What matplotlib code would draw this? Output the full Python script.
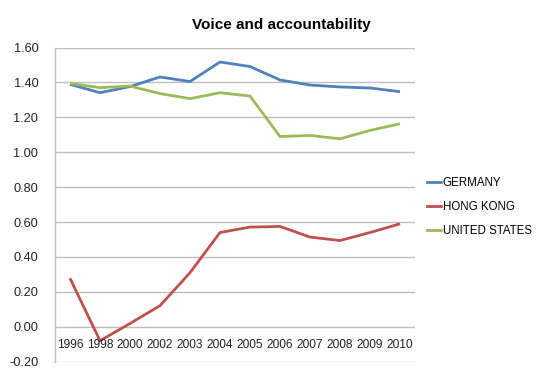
import matplotlib
matplotlib.use("Agg")
import matplotlib.pyplot as plt
from matplotlib.lines import Line2D

plt.rcParams['font.family'] = ['Liberation Sans', 'DejaVu Sans']

years = ["1996", "1998", "2000", "2002", "2003", "2004", "2005", "2006", "2007", "2008", "2009", "2010"]
germany = [1.389, 1.341, 1.376, 1.431, 1.405, 1.517, 1.491, 1.414, 1.385, 1.374, 1.368, 1.347]
hong_kong = [0.278, -0.080, 0.019, 0.121, 0.310, 0.540, 0.571, 0.575, 0.514, 0.494, 0.540, 0.590]
united_states = [1.395, 1.370, 1.379, 1.336, 1.307, 1.341, 1.322, 1.090, 1.096, 1.077, 1.125, 1.163]
series_names = ["GERMANY", "HONG KONG", "UNITED STATES"]
colors = ["#4F81BD", "#C0504D", "#9BBB59"]
yticks = [-0.2, 0.0, 0.2, 0.4, 0.6, 0.8, 1.0, 1.2, 1.4, 1.6]

fig = plt.figure(figsize=(5.42, 3.73), dpi=100)
W, H = 542, 373
ax = fig.add_axes([55 / W, (H - 361.7) / H, 360 / W, (361.7 - 47.5) / H])

x = list(range(len(years)))
for data, c in zip([germany, hong_kong, united_states], colors):
    ax.plot(x, data, color=c, lw=2.0, solid_capstyle='butt', zorder=3)

ax.set_xlim(-0.5, len(years) - 0.5)
ax.set_ylim(-0.2, 1.6)
ax.set_yticks(yticks)
ax.set_yticklabels([f"{v:.2f}" for v in yticks], fontsize=9.2, color='#222222')
ax.yaxis.grid(True, color='#BFBFBF', lw=1.0)
ax.set_axisbelow(True)
ax.tick_params(axis='y', length=0, pad=12)
ax.tick_params(axis='x', length=0)
ax.set_xticks([])
for s in ['top', 'right', 'bottom']:
    ax.spines[s].set_visible(False)
ax.spines['left'].set_color('#BFBFBF')
ax.spines['left'].set_linewidth(1.0)

# category labels just below the zero line (horizontal axis crosses at 0)
for i, yr in enumerate(years):
    ax.text(i, -0.105, yr, ha='center', va='center', fontsize=8.6, color='#222222')

fig.text(281 / W, 1 - 25 / H, "Voice and accountability", ha='center', va='center',
         fontsize=11, fontweight='bold')

handles = [Line2D([0], [0], color=c, lw=2.0) for c in colors]
fig.legend(handles, series_names, loc='center left', bbox_to_anchor=(427 / W, 1 - 207 / H),
           frameon=False, fontsize=8.3, handlelength=1.2, handletextpad=0.15,
           labelspacing=1.05, borderaxespad=0, borderpad=0)

fig.savefig("out.png", dpi=100)
